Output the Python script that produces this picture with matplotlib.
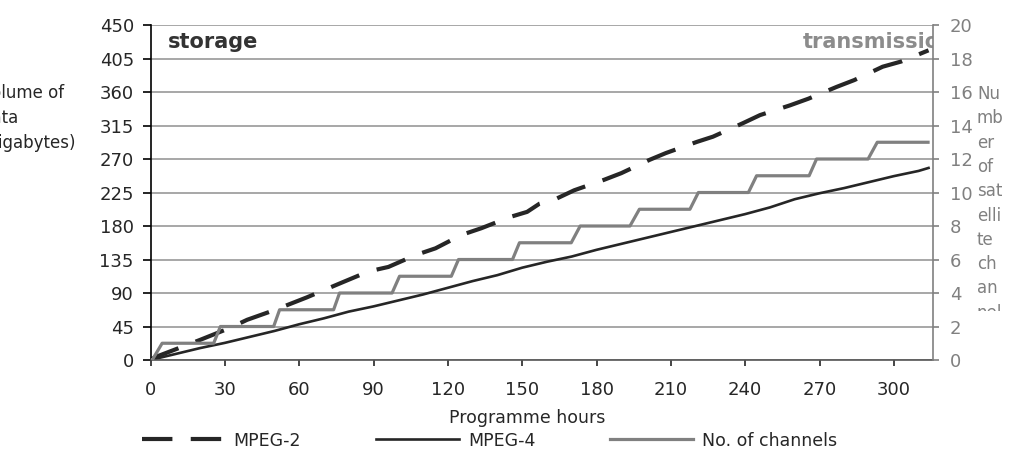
import matplotlib
matplotlib.use("Agg")
import matplotlib.pyplot as plt

# MPEG-2 storage volume (GB) against programme hours
mpeg2_hours = [0, 2, 13, 20, 32, 39, 50, 63, 76.5, 88, 96, 107, 115, 125.5, 133.5,
               145, 152, 157, 164, 171, 183, 190, 201.5, 208, 220.5, 227, 239,
               246, 258, 265.5, 277, 284, 295.5, 303, 314]
mpeg2_gb = [0, 4, 18, 27, 43, 54, 67, 84, 103, 119, 125, 141, 150, 168, 177,
            192, 199, 210, 217, 228, 242, 251, 269, 278, 293, 300, 318,
            329, 342, 351, 367, 376, 394, 401, 416]

# MPEG-4 storage volume (GB)
mpeg4_hours = [0, 10, 20, 30, 40, 50, 60, 70, 80, 90, 100, 110, 120, 130, 140,
               150, 160, 170, 180, 190, 200, 210, 220, 230, 240, 250, 260, 270,
               280, 290, 300, 310, 314]
mpeg4_gb = [0, 8, 16, 23, 31, 39, 48, 56, 65, 72, 80, 88, 97, 106, 114,
            124, 132, 139, 148, 156, 164, 172, 180, 188, 196, 205, 216, 224,
            231, 239, 247, 254, 258]

# Number of satellite channels needed for transmission
channel_hours = [0, 0.7, 4.7, 25.5, 28.2, 49.7, 52.1, 73.9, 76.3, 97.5, 100.5,
                 121.4, 124.3, 146.1, 148.9, 169.8, 173.4, 193.5, 197.3, 217.7,
                 221.1, 241.3, 244.6, 265.8, 268.8, 289.6, 293.3, 313.8]
channels = [0, 0, 1, 1, 2, 2, 3, 3, 4, 4, 5, 5, 6, 6, 7, 7, 8, 8, 9, 9,
            10, 10, 11, 11, 12, 12, 13, 13]

x_ticks = [0, 30, 60, 90, 120, 150, 180, 210, 240, 270, 300]
left_ticks = [0, 45, 90, 135, 180, 225, 270, 315, 360, 405, 450]
right_ticks = [0, 2, 4, 6, 8, 10, 12, 14, 16, 18, 20]

DARK = "#262626"
GREY = "#808080"
plt.rcParams["font.family"] = "DejaVu Sans"

fig = plt.figure(figsize=(10.13, 4.5), dpi=100)
ax = fig.add_axes([150.5 / 1013, 0.2, (933 - 150.5) / 1013, 0.9444 - 0.2])
ax2 = ax.twinx()

l2, = ax.plot(mpeg2_hours, mpeg2_gb, color=DARK, lw=3.0, dashes=(7.3, 4.4),
              label="MPEG-2")
l4, = ax.plot(mpeg4_hours, mpeg4_gb, color=DARK, lw=1.9, label="MPEG-4")
lc, = ax2.plot(channel_hours, channels, color=GREY, lw=2.3,
               label="No. of channels")

ax.set_xlim(0, 315.8)
ax.set_ylim(0, 450)
ax2.set_ylim(0, 20)
ax.set_xticks(x_ticks)
ax.set_yticks(left_ticks)
ax2.set_yticks(right_ticks)

ax.grid(axis="y", color="#a0a0a0", lw=1.3)
ax.set_axisbelow(True)

for a in (ax, ax2):
    a.spines["top"].set_visible(False)
ax.spines["left"].set_color("#000000")
ax.spines["left"].set_linewidth(1.2)
ax.spines["bottom"].set_color("#555555")
ax.spines["bottom"].set_linewidth(1.2)
ax.spines["right"].set_visible(False)
ax2.spines["left"].set_visible(False)
ax2.spines["bottom"].set_visible(False)
ax2.spines["right"].set_color(GREY)
ax2.spines["right"].set_linewidth(1.2)

ax.tick_params(axis="x", direction="out", length=4, width=1.2, color=DARK,
               labelsize=13, labelcolor=DARK, pad=11)
ax.tick_params(axis="y", direction="out", length=6, width=1.2, color="#000000",
               labelsize=13, labelcolor=DARK, pad=6)
ax2.tick_params(axis="y", direction="out", length=4, width=1.2, color=GREY,
                labelsize=13, labelcolor=GREY, pad=8)

ax.set_xlabel("Programme hours", fontsize=12.5, color=DARK)
ax.xaxis.set_label_coords(0.482, -0.146)
ax.set_ylabel("Volume of\ndata\n(gigabytes)", fontsize=12, color=DARK,
              rotation=0, ha="left", va="center", linespacing=1.5)
ax.yaxis.set_label_coords(-0.216, 0.722)

ax.text(0.0224, 0.931, "storage", transform=ax.transAxes, fontsize=15,
        fontweight="bold", color="#333333", va="baseline", ha="left")
ax.text(0.834, 0.931, "transmission", transform=ax.transAxes, fontsize=15,
        fontweight="bold", color="#8c8c8c", va="baseline", ha="left",
        clip_on=True)

# narrow, clipped text box for the secondary axis title
lab_ax = fig.add_axes([970 / 1013, (450 - 311) / 450, 43 / 1013, (311 - 80) / 450])
lab_ax.axis("off")
lab_ax.text(0.16, 0.978, "Nu\nmb\ner\nof\nsat\nelli\nte\nch\nan\nnel\ns",
            transform=lab_ax.transAxes, fontsize=12, color=GREY, ha="left",
            va="top", linespacing=1.45, clip_on=True)

fig.legend(handles=[l2, l4, lc], loc="center left",
           bbox_to_anchor=(126 / 1013, 0.021),
           ncol=3, frameon=False, fontsize=12.5, handlelength=4.8,
           handletextpad=0.5, columnspacing=4.3, labelcolor=DARK)

fig.savefig("out.png", dpi=100)
